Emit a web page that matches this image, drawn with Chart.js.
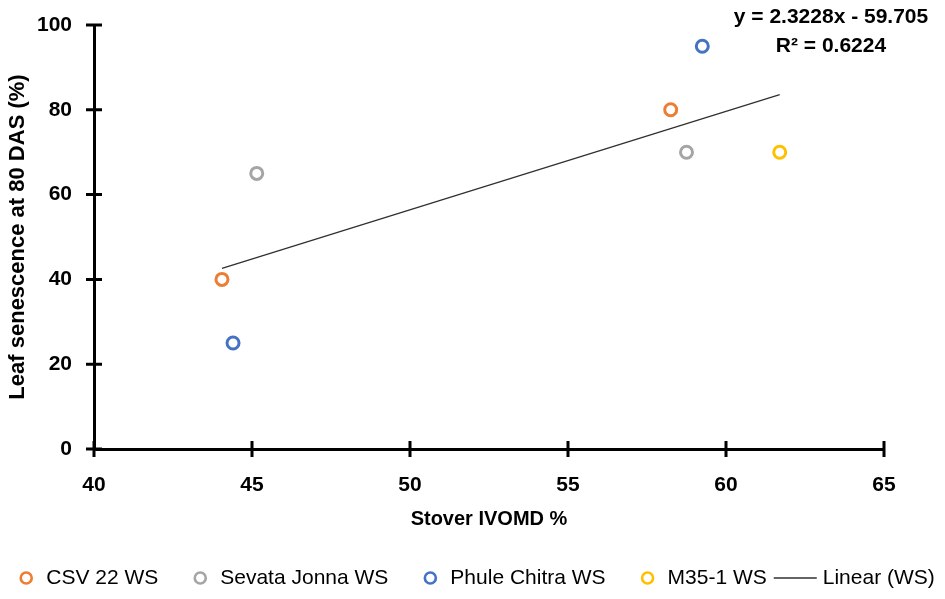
<!DOCTYPE html>
<html>
<head>
<meta charset="utf-8">
<script src="https://cdn.jsdelivr.net/npm/chart.js@4"></script>
<style>
  html, body { margin: 0; padding: 0; background: #fff; }
  #c { display: block; }
</style>
</head>
<body>
<canvas id="c" width="945" height="599"></canvas>
<script>
"use strict";
// values
const seriesNames = ["CSV 22 WS", "Sevata Jonna WS", "Phule Chitra WS", "M35-1 WS"];
const seriesColors = ["#ED7D31", "#A5A5A5", "#4472C4", "#FFC000"];
const ivomdX = [[44.05, 58.25], [45.15, 58.75], [44.4, 59.25], [61.7]];
const senescenceY = [[40, 80], [65, 70], [25, 95], [70]];
const trendX = [44.05, 61.7];
const trendY = [42.6, 83.6];
const trendName = "Linear (WS)";
const equationLines = ["y = 2.3228x - 59.705", "R\u00b2 = 0.6224"];
const xTicks = [40, 45, 50, 55, 60, 65];
const yTicks = [0, 20, 40, 60, 80, 100];

const FONT = "'Liberation Sans', Arial, sans-serif";

const datasets = seriesNames.map(function (name, i) {
	return {
		type: "scatter",
		label: name,
		data: ivomdX[i].map(function (x, j) { return { x: x, y: senescenceY[i][j] }; }),
		borderColor: seriesColors[i],
		backgroundColor: "#fff",
		pointRadius: 6,
		pointBorderWidth: 3
	};
});
datasets.push({
	type: "line",
	label: trendName,
	data: trendX.map(function (x, j) { return { x: x, y: trendY[j] }; }),
	borderColor: "#303030",
	borderWidth: 1.3,
	pointRadius: 0,
	fill: false
});

// crossing tick marks, equation text and legend
const extras = {
	id: "extras",
	afterDraw: function (chart) {
		const ctx = chart.ctx, xs = chart.scales.x, ys = chart.scales.y;
		const area = chart.chartArea;
		ctx.save();
		ctx.strokeStyle = "#000";
		ctx.lineWidth = 3;
		ctx.beginPath();
		xTicks.forEach(function (v) {
			const px = xs.getPixelForValue(v);
			ctx.moveTo(px, area.bottom - 8);
			ctx.lineTo(px, area.bottom + 8);
		});
		yTicks.forEach(function (v) {
			const py = ys.getPixelForValue(v);
			ctx.moveTo(area.left - 8, py);
			ctx.lineTo(area.left + 8, py);
		});
		ctx.stroke();

		ctx.fillStyle = "#000";
		ctx.font = "bold 21px " + FONT;
		ctx.textAlign = "center";
		ctx.textBaseline = "middle";
		ctx.fillText(equationLines[0], 831, 17);
		ctx.fillText(equationLines[1], 831, 46);

		// legend
		ctx.font = "21px " + FONT;
		ctx.textAlign = "left";
		const ly = 578;
		const items = chart.data.datasets;
		let total = 0;
		items.forEach(function (d, i) {
			const w = ctx.measureText(d.label).width;
			if (d.type === "line") total += 19 + w;
			else total += 25 + w + (i < items.length - 1 ? 37 : 0);
		});
		let x = (21 + 935) / 2 - total / 2;
		items.forEach(function (d) {
			const w = ctx.measureText(d.label).width;
			if (d.type === "line") {
				ctx.strokeStyle = d.borderColor;
				ctx.lineWidth = 1.3;
				ctx.beginPath();
				ctx.moveTo(x - 30, ly);
				ctx.lineTo(x + 13, ly);
				ctx.stroke();
				ctx.fillText(d.label, x + 19, ly);
				x += 19 + w;
			} else {
				ctx.strokeStyle = d.borderColor;
				ctx.lineWidth = 2.6;
				ctx.beginPath();
				ctx.arc(x + 5, ly, 5.5, 0, Math.PI * 2);
				ctx.stroke();
				ctx.fillText(d.label, x + 25, ly);
				x += 25 + w + 37;
			}
		});
		ctx.restore();
	}
};

new Chart(document.getElementById("c"), {
	data: { datasets: datasets },
	options: {
		responsive: false,
		animation: false,
		layout: { padding: { top: 25, right: 61, left: 0, bottom: 50 } },
		plugins: {
			legend: { display: false },
			tooltip: { enabled: false }
		},
		scales: {
			x: {
				type: "linear",
				min: 40, max: 65,
				afterBuildTicks: function (s) { s.ticks = xTicks.map(function (v) { return { value: v }; }); },
				afterFit: function (s) { s.height = 100; s.paddingLeft = 0; s.paddingRight = 0; },
				grid: { display: false, drawTicks: false },
				border: { color: "#000", width: 3 },
				ticks: { color: "#000", padding: 24, font: { family: FONT, size: 21, weight: "bold" } },
				title: { display: true, text: "Stover IVOMD %", color: "#000", padding: { top: 4, bottom: 18 }, font: { family: FONT, size: 20, weight: "bold" } }
			},
			y: {
				type: "linear",
				min: 0, max: 100,
				afterBuildTicks: function (s) { s.ticks = yTicks.map(function (v) { return { value: v }; }); },
				afterFit: function (s) { s.width = 94; s.paddingTop = 0; s.paddingBottom = 0; },
				grid: { display: false, drawTicks: false },
				border: { color: "#000", width: 3 },
				ticks: { color: "#000", padding: 22, font: { family: FONT, size: 21, weight: "bold" } },
				title: { display: true, text: "Leaf senescence at 80 DAS (%)", color: "#000", padding: { top: 5, bottom: 0 }, font: { family: FONT, size: 22, weight: "bold" } }
			}
		}
	},
	plugins: [extras]
});
</script>
</body>
</html>
